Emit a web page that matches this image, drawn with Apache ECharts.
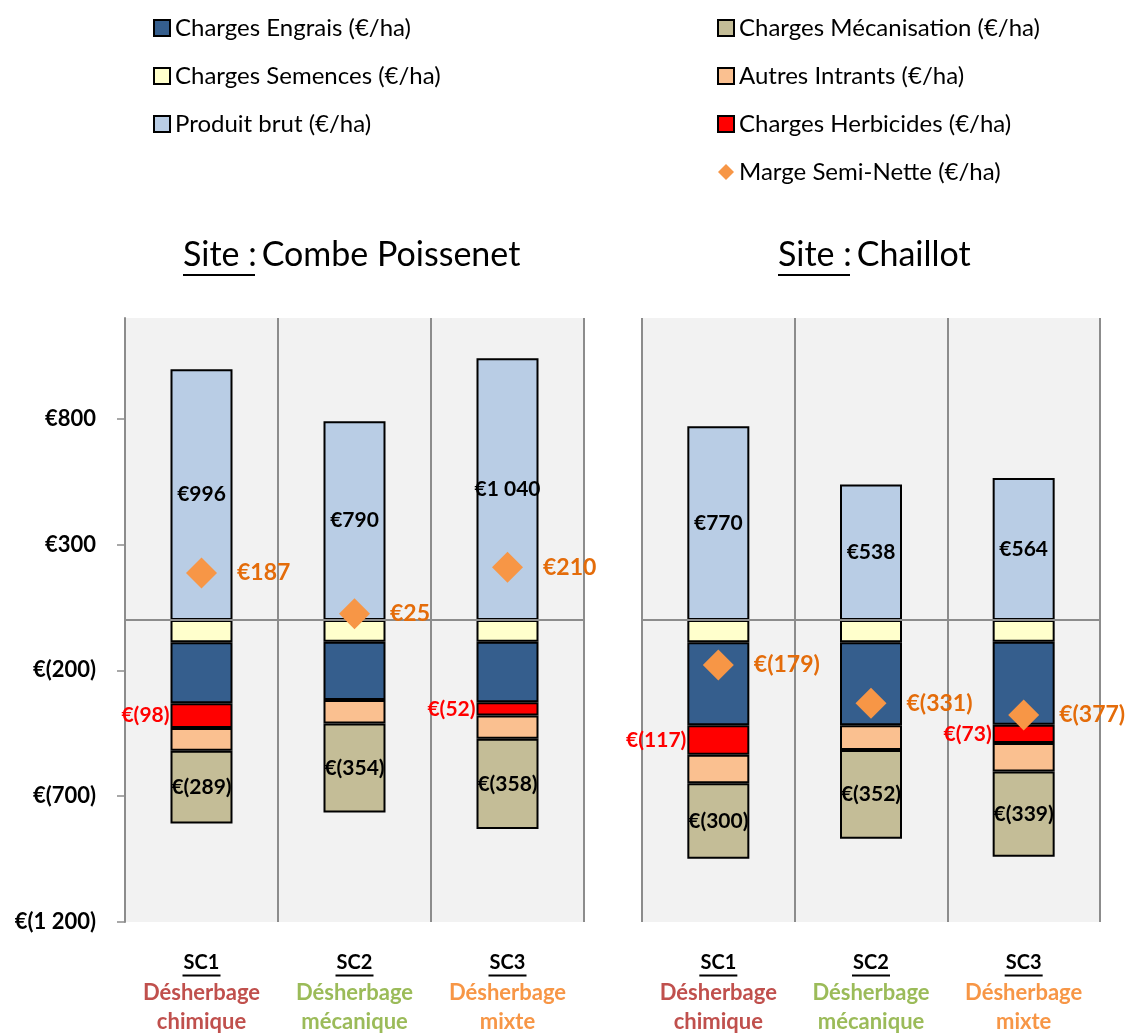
<!DOCTYPE html>
<html>
<head>
<meta charset="utf-8">
<script src="https://cdn.jsdelivr.net/npm/echarts@6/dist/echarts.min.js"></script>
<style>
  html, body { margin: 0; padding: 0; background: #ffffff; }
  #chart { width: 1134px; height: 1034px; }
</style>
</head>
<body>
<div id="chart"></div>
<script>
// ---------- data ----------
const sites = ['Combe Poissenet', 'Chaillot'];
const categories = ['SC1', 'SC2', 'SC3'];
const practicesLine1 = ['Désherbage', 'Désherbage', 'Désherbage'];
const practicesLine2 = ['chimique', 'mécanique', 'mixte'];
const produitBrut  = [[996, 790, 1040], [770, 538, 564]];
const semences     = [[-88, -86, -86], [-88, -88, -86]];
const engrais      = [[-243, -232, -241], [-330, -330, -330]];
const herbicides   = [[-98, null, -52], [-117, null, -73]];
const autres       = [[-91, -93, -93], [-114, -99, -113]];
const mecanisation = [[-289, -354, -358], [-300, -352, -339]];
const marge        = [[187, 25, 210], [-179, -331, -377]];
const yTicks = [-1200, -700, -200, 300, 800];

// ---------- helpers ----------
const FONT = 'Lato';
function eur(v) {
  if (v === null || v === undefined || isNaN(v)) return '';
  const a = Math.abs(Math.round(v)).toString().replace(/\B(?=(\d{3})+(?!\d))/g, ' ');
  return v < 0 ? '€(' + a + ')' : '€' + a;
}
const colors = {
  pb: '#B9CDE5', sem: '#FFFFCC', eng: '#355E8D', herb: '#FF0000',
  aut: '#FAC090', meca: '#C4BD97', marge: '#F79646'
};
const catColors = ['#C0504D', '#9BBB59', '#F79646'];
const names = {
  pb: 'Produit brut (€/ha)', sem: 'Charges Semences (€/ha)', eng: 'Charges Engrais (€/ha)',
  herb: 'Charges Herbicides (€/ha)', aut: 'Autres Intrants (€/ha)',
  meca: 'Charges Mécanisation (€/ha)', marge: 'Marge Semi-Nette (€/ha)'
};

const grids = [
  { left: 125, right: 550, top: 318, bottom: 112, show: true, backgroundColor: '#F2F2F2', borderWidth: 0 },
  { left: 642, right: 34, top: 318, bottom: 112, show: true, backgroundColor: '#F2F2F2', borderWidth: 0 }
];

const xAxes = [0, 1].map(g => ({
  type: 'category', gridIndex: g, data: categories,
  axisLine: { show: false }, axisTick: { show: false },
  splitLine: { show: true, lineStyle: { color: '#8C8C8C', width: 2 } },
  axisLabel: {
    interval: 0, margin: 30,
    formatter: function (v, i) {
      return '{sc|' + v + '}\n{ul| }\n{d' + i + '|' + practicesLine1[i] + '}\n{d' + i + '|' + practicesLine2[i] + '}';
    },
    rich: {
      sc: { fontFamily: FONT, fontWeight: 'bold', fontSize: 20, color: '#000', lineHeight: 21 },
      ul: { width: 38, height: 2, lineHeight: 5, backgroundColor: '#000', fontSize: 1 },
      d0: { fontFamily: FONT, fontWeight: 'bold', fontSize: 22, color: catColors[0], lineHeight: 29 },
      d1: { fontFamily: FONT, fontWeight: 'bold', fontSize: 22, color: catColors[1], lineHeight: 29 },
      d2: { fontFamily: FONT, fontWeight: 'bold', fontSize: 22, color: catColors[2], lineHeight: 29 }
    }
  }
}));

const yAxes = [0, 1].map(g => ({
  type: 'value', gridIndex: g, min: -1200, max: 1200,
  splitLine: { show: false },
  axisLine: { show: g === 0, lineStyle: { color: '#8C8C8C', width: 2 } },
  axisTick: { show: g === 0, customValues: yTicks, length: 8, lineStyle: { color: '#8C8C8C', width: 1.5 } },
  axisLabel: {
    show: g === 0, customValues: yTicks, formatter: v => eur(v), margin: 29,
    fontFamily: FONT, fontWeight: 'bold', fontSize: 22, color: '#000'
  }
}));

const series = [];
const border = { borderColor: '#000', borderWidth: 2 };
const blackLabel = {
  show: true, position: 'inside', formatter: p => eur(p.value),
  color: '#000', fontFamily: FONT, fontWeight: 'bold', fontSize: 21, textBorderWidth: 0
};
[0, 1].forEach(g => {
  const barBase = { type: 'bar', stack: 'total' + g, barWidth: 62, xAxisIndex: g, yAxisIndex: g };
  series.push(Object.assign({}, barBase, {
    name: names.pb, data: produitBrut[g],
    itemStyle: Object.assign({ color: colors.pb }, border),
    label: blackLabel,
    markLine: {
      silent: true, symbol: 'none', label: { show: false },
      lineStyle: { color: '#8C8C8C', width: 2, type: 'solid' },
      data: [{ yAxis: 0 }]
    }
  }));
  series.push(Object.assign({}, barBase, {
    name: names.sem, data: semences[g],
    itemStyle: Object.assign({ color: colors.sem }, border)
  }));
  series.push(Object.assign({}, barBase, {
    name: names.eng, data: engrais[g],
    itemStyle: Object.assign({ color: colors.eng }, border)
  }));
  series.push(Object.assign({}, barBase, {
    name: names.herb, data: herbicides[g],
    itemStyle: Object.assign({ color: colors.herb }, border),
    label: {
      show: true, position: 'left', distance: 1, formatter: p => eur(p.value),
      color: '#FF0000', fontFamily: FONT, fontWeight: 'bold', fontSize: 21
    }
  }));
  series.push(Object.assign({}, barBase, {
    name: names.aut, data: autres[g],
    itemStyle: Object.assign({ color: colors.aut }, border)
  }));
  series.push(Object.assign({}, barBase, {
    name: names.meca, data: mecanisation[g],
    itemStyle: Object.assign({ color: colors.meca }, border),
    label: blackLabel
  }));
  series.push({
    type: 'scatter', name: names.marge, xAxisIndex: g, yAxisIndex: g, z: 5,
    data: marge[g], symbol: 'diamond', symbolSize: 31,
    itemStyle: { color: colors.marge, opacity: 1 },
    label: {
      show: true, position: 'right', distance: 20, formatter: p => eur(p.value),
      color: '#E46C0A', opacity: 1, fontFamily: FONT, fontWeight: 'bold', fontSize: 23
    }
  });
});

const legendCommon = {
  orient: 'vertical', top: 10, itemGap: 22, itemWidth: 16, itemHeight: 16,
  icon: 'rect',
  textStyle: { fontFamily: FONT, fontSize: 24, color: '#000', lineHeight: 26 },
  selectedMode: false
};

const option = {
  backgroundColor: '#ffffff',
  animation: false,
  title: sites.map((s, i) => ({
    text: '{u|Site :} {t|' + s + '}\n{ul| }',
    left: i === 0 ? 178 : 773, top: 232, textAlign: 'left',
    textStyle: {
      fontWeight: 'normal',
      rich: {
        u: { fontFamily: FONT, fontSize: 34, fontWeight: 'normal', color: '#000', lineHeight: 36 },
        t: { fontFamily: FONT, fontSize: 34, fontWeight: 'normal', color: '#000', lineHeight: 36 },
        ul: { width: 72, height: 2, backgroundColor: '#000', fontSize: 1, lineHeight: 4 }
      }
    }
  })),
  legend: [
    Object.assign({}, legendCommon, { left: 148, data: [names.eng, names.sem, names.pb] }),
    Object.assign({}, legendCommon, {
      left: 712,
      data: [names.meca, names.aut, names.herb, { name: names.marge, icon: 'diamond', itemStyle: { opacity: 1 } }]
    })
  ],
  grid: grids,
  xAxis: xAxes,
  yAxis: yAxes,
  series: series
};

const chart = echarts.init(document.getElementById('chart'), null, { renderer: 'canvas' });
chart.setOption(option);
</script>
</body>
</html>
